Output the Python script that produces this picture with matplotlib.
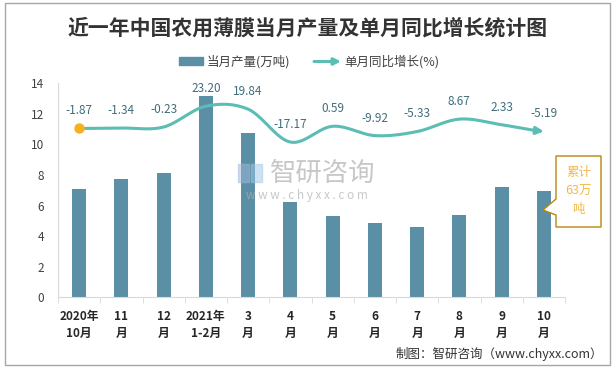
import numpy as np
import matplotlib
matplotlib.use('Agg')
import matplotlib.pyplot as plt
from matplotlib.patches import Rectangle, Polygon

plt.rcParams['font.family'] = ['Noto Sans CJK SC', 'DejaVu Sans']
plt.rcParams['axes.unicode_minus'] = False

# data
months = ['2020年\n10月', '11\n月', '12\n月', '2021年\n1-2月', '3\n月', '4\n月',
          '5\n月', '6\n月', '7\n月', '8\n月', '9\n月', '10\n月']
output = [7.08, 7.74, 8.13, 13.17, 10.74, 6.23, 5.32, 4.86, 4.60, 5.38, 7.21, 6.95]
yoy = [-1.87, -1.34, -0.23, 23.20, 19.84, -17.17, 0.59, -9.92, -5.33, 8.67, 2.33, -5.19]
yticks = [0, 2, 4, 6, 8, 10, 12, 14]

BAR_C = '#5B8FA6'
LINE_C = '#5BBDB4'
W, H = 615, 368


def px(x, y):
    """figure pixel (from top-left) -> figure fraction"""
    return x / W, 1 - y / H


def catmull(y, n=20):
    # smooth curve through the points, like the spreadsheet "smoothed line"
    y = np.asarray(y, float)
    p = np.concatenate(([y[0]], y, [y[-1]]))
    xs, ys = [], []
    for i in range(len(y) - 1):
        p0, p1, p2, p3 = p[i], p[i + 1], p[i + 2], p[i + 3]
        t = np.linspace(0, 1, n, endpoint=False)
        yy = 0.5 * ((2 * p1) + (-p0 + p2) * t + (2 * p0 - 5 * p1 + 4 * p2 - p3) * t ** 2
                    + (-p0 + 3 * p1 - 3 * p2 + p3) * t ** 3)
        xs.append(i + t)
        ys.append(yy)
    xs.append([len(y) - 1])
    ys.append([y[-1]])
    return np.concatenate(xs), np.concatenate(ys)


fig = plt.figure(figsize=(6.15, 3.68), dpi=100)
fig.patch.set_facecolor('white')

ax = fig.add_axes([58 / W, 1 - 297.3 / H, (565 - 58) / W, (297.3 - 83.3) / H])
x = np.arange(len(months))
ax.bar(x, output, width=0.33, color=BAR_C, zorder=2)
ax.set_xlim(-0.5, len(months) - 0.5)
ax.set_ylim(0, 14)
ax.set_yticks(yticks)
ax.tick_params(axis='y', length=0, labelsize=8.5, labelcolor='#404040', pad=10)
ax.set_xticks(x)
ax.set_xticklabels(months, fontsize=8.5, fontweight='bold', color='#262626', linespacing=1.45)
ax.set_xticks(np.arange(-0.5, len(months)), minor=True)
ax.tick_params(axis='x', which='major', length=0, pad=9)
ax.tick_params(axis='x', which='minor', length=4, color='#D9D9D9')
for s in ['top', 'right']:
    ax.spines[s].set_visible(False)
ax.spines['bottom'].set_color('#D9D9D9')
ax.spines['left'].set_color('#D9D9D9')

# growth line on a hidden second axis
ax2 = ax.twinx()
ax2.set_ylim(-192, 49)
ax2.axis('off')
sx, sy = catmull(yoy)
ax2.plot(sx[:-3], sy[:-3], color=LINE_C, lw=2.2, solid_capstyle='round', zorder=3)
ax2.annotate('', xy=(sx[-1], sy[-1]), xytext=(sx[-4], sy[-4]),
             arrowprops=dict(arrowstyle='-|>', color=LINE_C, lw=2.2, mutation_scale=11,
                             shrinkA=0, shrinkB=0))
ax2.plot([x[0]], [yoy[0]], 'o', color='#F5B120', ms=6.5, zorder=4)
for xi, v in zip(x, yoy):
    ax2.annotate(f'{v:.2f}', (xi, v), xytext=(0, 8), textcoords='offset points',
                 ha='center', va='bottom', fontsize=8.5, color='#3F6E7C')

# title and legend
fig.text(*px(308, 28), '近一年中国农用薄膜当月产量及单月同比增长统计图', ha='center', va='center',
         fontsize=15, fontweight='bold', color='#333333')
fig.patches.append(Rectangle(px(179, 65), 24 / W, 8 / H, transform=fig.transFigure,
                             color=BAR_C, figure=fig))
fig.text(*px(207, 61.5), '当月产量(万吨)', ha='left', va='center', fontsize=9, color='#404040')
ax.annotate('', xy=px(341, 61.5), xytext=px(314, 61.5), xycoords='figure fraction',
            textcoords='figure fraction',
            arrowprops=dict(arrowstyle='-|>', color=LINE_C, lw=2.2, mutation_scale=10,
                            shrinkA=0, shrinkB=0))
fig.text(*px(344, 61.5), '单月同比增长(%)', ha='left', va='center', fontsize=9, color='#404040')

# callout box
pts = [(556, 156), (601, 156), (601, 227), (556, 227), (556, 215), (543, 210), (556, 199)]
fig.patches.append(Polygon([px(a, b) for a, b in pts], closed=True, transform=fig.transFigure,
                           facecolor='white', edgecolor='#B8860B', lw=1.0, figure=fig, zorder=5))
fig.text(*px(578.5, 191), '累计\n63万\n吨', ha='center', va='center', fontsize=9,
         color='#F2B94B', linespacing=1.55, zorder=6)

# watermark
fig.patches.append(Rectangle(px(238, 182), 11 / W, 18 / H, transform=fig.transFigure,
                             color='#9DB8D8', alpha=0.5, figure=fig, zorder=4))
fig.patches.append(Rectangle(px(251, 182), 11 / W, 18 / H, transform=fig.transFigure,
                             color='#9FC7E8', alpha=0.5, figure=fig, zorder=4))
fig.text(*px(323, 173), '智研咨询', ha='center', va='center', fontsize=19,
         color='#B0B0B0', alpha=0.7, zorder=4)
fig.text(*px(307, 196), 'w w w . c h y x x . c o m', ha='center', va='center', fontsize=8.5,
         color='#B0B0B0', alpha=0.7, zorder=4)

# footer and frame
fig.text(*px(603, 354), '制图：智研咨询（www.chyxx.com）', ha='right', va='center',
         fontsize=9, color='#333333')
fig.patches.append(Rectangle(px(5, 365), 605 / W, 362 / H, transform=fig.transFigure,
                             fill=False, edgecolor='#A6A6A6', lw=1, figure=fig))

fig.savefig('out.png', dpi=100)
